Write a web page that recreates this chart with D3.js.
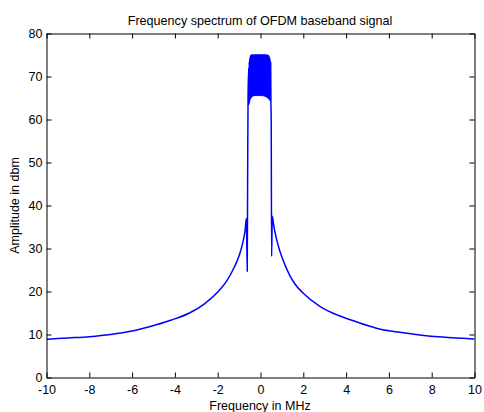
<!DOCTYPE html>
<html>
<head>
<meta charset="utf-8">
<script src="https://cdn.jsdelivr.net/npm/d3@7"></script>
<style>
  body { margin: 0; background: #fff; }
  svg { display: block; font-family: "Liberation Sans", Arial, sans-serif; }
</style>
</head>
<body>
<div id="chart"></div>
<script>
// spectrum, left skirt -> centre band -> right skirt
const leftFreq = [-10, -9.5, -9, -8, -7, -6, -5.19, -4.2, -3.32, -2.6, -1.92, -1.6, -1.29, -1.0, -0.83, -0.72, -0.66, -0.62, -0.6, -0.58];
const leftAmp  = [8.9, 9.05, 9.2, 9.5, 10.0, 10.8, 11.8, 13.3, 15.0, 17.2, 20.3, 22.3, 25.0, 28.3, 31.3, 34.2, 37.0, 24.7, 48.0, 66.0];

const bandFreq = [-0.55, -0.5375, -0.525, -0.5125, -0.5, -0.4875, -0.475, -0.4625, -0.45, -0.4375, -0.425, -0.4125,
  -0.4, -0.3875, -0.375, -0.3625, -0.35, -0.3375, -0.325, -0.3125, -0.3, -0.2875, -0.275, -0.2625, -0.25, -0.2375,
  -0.225, -0.2125, -0.2, -0.1875, -0.175, -0.1625, -0.15, -0.1375, -0.125, -0.1125, -0.1, -0.0875, -0.075, -0.0625,
  -0.05, -0.0375, -0.025, -0.0125, 0, 0.0125, 0.025, 0.0375, 0.05, 0.0625, 0.075, 0.0875, 0.1, 0.1125, 0.125, 0.1375,
  0.15, 0.1625, 0.175, 0.1875, 0.2, 0.2125, 0.225, 0.2375, 0.25, 0.2625, 0.275, 0.2875, 0.3, 0.3125, 0.325, 0.3375,
  0.35, 0.3625, 0.375, 0.3875, 0.4, 0.4125, 0.425, 0.4375, 0.45, 0.4625, 0.475, 0.4875];
const bandAmp = [72, 63.5, 73.5, 64, 74.3, 64.5, 74.8, 64.8, 75, 65, 75, 65.2, 75.1, 65.3, 75, 65.4, 75.1, 65.5, 75, 65.5,
  75.1, 65.6, 75, 65.6, 75.1, 65.6, 75, 65.6, 75.1, 65.6, 75, 65.6, 75.1, 65.6, 75, 65.6, 75.1, 65.6, 75, 65.6,
  75.1, 65.6, 75, 65.6, 75.1, 65.6, 75, 65.6, 75.1, 65.6, 75, 65.6, 75.1, 65.5, 75, 65.5, 75.1, 65.5, 75, 65.4,
  75.1, 65.4, 75, 65.3, 75.1, 65.3, 75, 65.2, 75, 65.1, 75, 65, 75, 64.9, 74.9, 64.8, 74.8, 64.6, 74.5, 64.4,
  74, 64.2, 73.2, 63.8];

const rightFreq = [0.5, 0.52, 0.55, 0.62, 0.72, 0.85, 1.0, 1.36, 1.6, 2.0, 2.76, 3.5, 4.16, 5.0, 5.56, 6.5, 7.43, 8.5, 9.5, 10];
const rightAmp  = [60, 28.2, 37.5, 35.3, 32.8, 30.3, 28.0, 23.8, 21.8, 19.6, 16.6, 14.7, 13.5, 12.1, 11.3, 10.5, 9.9, 9.4, 9.1, 8.95];

const xTicks = [-10, -8, -6, -4, -2, 0, 2, 4, 6, 8, 10];
const yTicks = [0, 10, 20, 30, 40, 50, 60, 70, 80];

(function () {
  const W = 484, H = 412;
  const pLeft = 46.5, pRight = 474.5, pTop = 33.5, pBottom = 377.5;

  const svg = d3.select("#chart").append("svg").attr("width", W).attr("height", H);

  const x = d3.scaleLinear().domain([-10, 10]).range([pLeft, pRight]);
  const y = d3.scaleLinear().domain([0, 80]).range([pBottom, pTop]);

  const pts = [];
  leftFreq.forEach((f, i) => pts.push([f, leftAmp[i]]));
  bandFreq.forEach((f, i) => pts.push([f, bandAmp[i]]));
  rightFreq.forEach((f, i) => pts.push([f, rightAmp[i]]));

  svg.append("clipPath").attr("id", "clip")
    .append("rect").attr("x", pLeft).attr("y", pTop).attr("width", pRight - pLeft).attr("height", pBottom - pTop);

  svg.append("path")
    .datum(pts)
    .attr("clip-path", "url(#clip)")
    .attr("fill", "none")
    .attr("stroke", "#0000ff")
    .attr("stroke-width", 1.5)
    .attr("d", d3.line().curve(d3.curveMonotoneX).x(d => x(d[0])).y(d => y(d[1])));

  // axes, ticks pointing inward on all four sides
  const fs = "12.5px";
  const plain = d => String(d);
  const xb = svg.append("g").attr("transform", `translate(0,${pBottom})`)
    .call(d3.axisBottom(x).tickValues(xTicks).tickFormat(plain).tickSizeInner(-5).tickSizeOuter(0).tickPadding(8));
  const xt = svg.append("g").attr("transform", `translate(0,${pTop})`)
    .call(d3.axisTop(x).tickValues(xTicks).tickSizeInner(-5).tickSizeOuter(0).tickFormat(""));
  const yl = svg.append("g").attr("transform", `translate(${pLeft},0)`)
    .call(d3.axisLeft(y).tickValues(yTicks).tickFormat(plain).tickSizeInner(-5).tickSizeOuter(0).tickPadding(4));
  const yr = svg.append("g").attr("transform", `translate(${pRight},0)`)
    .call(d3.axisRight(y).tickValues(yTicks).tickSizeInner(-5).tickSizeOuter(0).tickFormat(""));

  [xb, xt, yl, yr].forEach(g => {
    g.select(".domain").attr("stroke", "#000").attr("stroke-width", 1);
    g.selectAll(".tick line").attr("stroke", "#000");
    g.selectAll("text").attr("font-size", fs).attr("fill", "#000")
      .attr("font-family", "'Liberation Sans', Arial, sans-serif");
  });

  svg.append("text")
    .attr("x", 260).attr("y", 25)
    .attr("text-anchor", "middle")
    .attr("font-size", "12.6px")
    .text("Frequency spectrum of OFDM baseband signal");

  svg.append("text")
    .attr("x", 260).attr("y", 410)
    .attr("text-anchor", "middle")
    .attr("font-size", "12.5px")
    .text("Frequency in MHz");

  svg.append("text")
    .attr("transform", `translate(19,${(pTop + pBottom) / 2}) rotate(-90)`)
    .attr("text-anchor", "middle")
    .attr("font-size", "12.5px")
    .text("Amplitude in dbm");
})();
</script>
</body>
</html>
